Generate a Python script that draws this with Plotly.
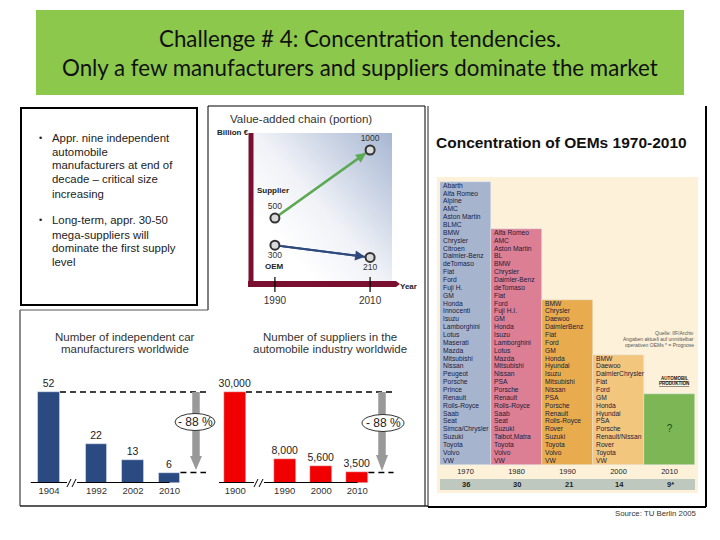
import base64
import plotly.graph_objects as go

W, H = 720, 540
# ---- data ----
title_lines = ["Challenge # 4: Concentration tendencies.",
               "Only a few manufacturers and suppliers dominate the market"]
bullet_lines = ["Appr. nine independent", "automobile", "manufacturers at end of",
                "decade \u2013 critical size", "increasing"]
bullet_lines2 = ["Long-term, appr. 30-50", "mega-suppliers will",
                 "dominate the first supply", "level"]

maker_years = ["1904", "1992", "2002", "2010"]
maker_counts = [52, 22, 13, 6]
supplier_years = ["1900", "1990", "2000", "2010"]
supplier_counts = [30000, 8000, 5600, 3500]
supplier_labels = ["30,000", "8,000", "5,600", "3,500"]

chain_years = [1990, 2010]
supplier_value = [500, 1000]
oem_value = [300, 210]
supplier_point_labels = ["500", "1000"]
oem_point_labels = ["300", "210"]

oem_periods = ["1970", "1980", "1990", "2000", "2010"]
oem_counts = [36, 30, 21, 14, 9]
oem_count_labels = ["36", "30", "21", "14", "9*"]
oem_1970 = ["Abarth", "Alfa Romeo", "Alpine", "AMC", "Aston Martin", "BLMC", "BMW", "Chrysler",
            "Citroen", "Daimler-Benz", "deTomaso", "Fiat", "Ford", "Fuji H.", "GM", "Honda",
            "Innocenti", "Isuzu", "Lamborghini", "Lotus", "Maserati", "Mazda", "Mitsubishi",
            "Nissan", "Peugeot", "Porsche", "Prince", "Renault", "Rolls-Royce", "Saab", "Seat",
            "Simca/Chrysler", "Suzuki", "Toyota", "Volvo", "VW"]
oem_1980 = ["Alfa Romeo", "AMC", "Aston Martin", "BL", "BMW", "Chrysler", "Daimler-Benz",
            "deTomaso", "Fiat", "Ford", "Fuji H.I.", "GM", "Honda", "Isuzu", "Lamborghini",
            "Lotus", "Mazda", "Mitsubishi", "Nissan", "PSA", "Porsche", "Renault", "Rolls-Royce",
            "Saab", "Seat", "Suzuki", "Talbot,Matra", "Toyota", "Volvo", "VW"]
oem_1990 = ["BMW", "Chrysler", "Daewoo", "DaimlerBenz", "Fiat", "Ford", "GM", "Honda", "Hyundai",
            "Isuzu", "Mitsubishi", "Nissan", "PSA", "Porsche", "Renault", "Rolls-Royce", "Rover",
            "Suzuki", "Toyota", "Volvo", "VW"]
oem_2000 = ["BMW", "Daewoo", "DaimlerChrysler", "Fiat", "Ford", "GM", "Honda", "Hyundai", "PSA",
            "Porsche", "Renault/Nissan", "Rover", "Toyota", "VW"]
oem_2010 = ["?"]
oem_lists = [oem_1970, oem_1980, oem_1990, oem_2000, oem_2010]
oem_colors = ["#A7B4CE", "#DC7F94", "#E8AC4E", "#F3C67E", "#7DB755"]

# ---- layout helpers ----
FONT = "Liberation Sans"
def px(x): return x / W
def py(y): return 1 - y / H
def dom(a, b, size): return [a / size, b / size]
def ydom(top, bottom): return [1 - bottom / H, 1 - top / H]

shapes, anns = [], []
def rect(x0, y0, x1, y1, fill=None, line=None, lw=0, layer="below"):
    shapes.append(dict(type="rect", xref="paper", yref="paper", x0=px(x0), x1=px(x1), y0=py(y0), y1=py(y1),
                       fillcolor=fill or "rgba(0,0,0,0)", layer=layer,
                       line=dict(color=line or "rgba(0,0,0,0)", width=lw)))
def seg(x0, y0, x1, y1, color="#000", lw=1, layer="below"):
    shapes.append(dict(type="line", xref="paper", yref="paper", x0=px(x0), x1=px(x1), y0=py(y0), y1=py(y1),
                       layer=layer, line=dict(color=color, width=lw)))
def tri(pts, color):
    d = "M " + " L ".join(f"{px(a):.5f},{py(b):.5f}" for a, b in pts) + " Z"
    shapes.append(dict(type="path", xref="paper", yref="paper", path=d, fillcolor=color, layer="above",
                       line=dict(width=0)))
def ann(text, x, y, size=10, color="#222", anchor="center", bold=False, font=FONT):
    anns.append(dict(text=f"<b>{text}</b>" if bold else text, x=px(x), y=py(y), xref="paper", yref="paper",
                     showarrow=False, xanchor=anchor, yanchor="middle", borderpad=0,
                     font=dict(family=font, size=size, color=color)))

fig = go.Figure()

# frames
rect(36, 10, 684, 95, fill="#8CC84B")
for line, yy in zip(title_lines, [38.5, 67]):
    ann(line, 360, yy, size=22.3, color="#111", font="Lato")
rect(21, 108, 197, 305, line="#000", lw=2)
seg(208, 106, 425, 106, lw=1); seg(208, 106, 208, 310, lw=1); seg(425, 106, 425, 506, lw=1)
seg(20, 310, 208, 310, color="#555", lw=1); seg(20, 310, 20, 506, color="#666", lw=1.5)
seg(20, 506, 428, 506, color="#222", lw=1.5)
seg(428, 106, 428, 507, color="#222", lw=1); seg(706, 106, 706, 507, color="#000", lw=2)
seg(428, 507, 706, 507, color="#000", lw=2)

# bullets
ann("\u2022", 40, 138, size=9)
for s, yy in zip(bullet_lines, [138, 152, 165, 179, 193.5]):
    ann(s, 51, yy, size=11.4, anchor="left")
ann("\u2022", 40, 220, size=9)
for s, yy in zip(bullet_lines2, [220, 234.5, 248, 262]):
    ann(s, 51, yy, size=11.4, anchor="left")

# ---- panel: manufacturers ----
maker_pos = [0, 1.3, 2.3, 3.3]
fig.add_trace(go.Bar(x=maker_pos, y=maker_counts, width=0.59, marker_color="#2B4A82", text=[str(v) for v in maker_counts],
                     textposition="outside", cliponaxis=False, constraintext="none",
                     textfont=dict(family=FONT, size=10.5, color="#222"), xaxis="x", yaxis="y"))
fig.add_trace(go.Scatter(x=[-0.5, 3.3], y=[0, 0], mode="lines", line=dict(color="#000", width=2), xaxis="x", yaxis="y", cliponaxis=False))
fig.add_trace(go.Scatter(x=[0.3, 4.3], y=[maker_counts[0]] * 2, mode="lines", line=dict(color="#000", width=1.5, dash="6px,4px"), xaxis="x", yaxis="y"))
fig.add_trace(go.Scatter(x=[3.6, 4.3], y=[maker_counts[-1]] * 2, mode="lines", line=dict(color="#000", width=1.5, dash="6px,4px"), xaxis="x", yaxis="y"))

# ---- panel: suppliers ----
supplier_pos = [0, 1.375, 2.39, 3.39]
fig.add_trace(go.Bar(x=supplier_pos, y=supplier_counts, width=0.61, marker_color="#F00000", text=supplier_labels,
                     textposition="outside", cliponaxis=False, constraintext="none",
                     textfont=dict(family=FONT, size=10.5, color="#222"), xaxis="x2", yaxis="y2"))
fig.add_trace(go.Scatter(x=[-0.45, 3.4], y=[0, 0], mode="lines", line=dict(color="#000", width=2), xaxis="x2", yaxis="y2", cliponaxis=False))
fig.add_trace(go.Scatter(x=[0.3, 4.4], y=[supplier_counts[0]] * 2, mode="lines", line=dict(color="#000", width=1.5, dash="6px,4px"), xaxis="x2", yaxis="y2"))
fig.add_trace(go.Scatter(x=[3.7, 4.4], y=[supplier_counts[-1]] * 2, mode="lines", line=dict(color="#000", width=1.5, dash="6px,4px"), xaxis="x2", yaxis="y2"))

for s, yy in zip(["Number of independent car", "manufacturers worldwide"], [337, 349]):
    ann(s, 125, yy, size=11.5, color="#333")
for s, yy in zip(["Number of suppliers in the", "automobile industry worldwide"], [337, 349]):
    ann(s, 330, yy, size=11.5, color="#333")

# grey arrows and ellipses
for cx, head0, head1, ecx, ecy, erx in [(196, 456, 470, 195, 422, 20), (382, 455, 471, 383, 423, 21)]:
    seg(cx, 392, cx, head0, color="#999", lw=7.5, layer="above")
    tri([(cx - 6, head0), (cx + 6, head0), (cx, head1)], "#999")
    shapes.append(dict(type="circle", xref="paper", yref="paper", x0=px(ecx - erx), x1=px(ecx + erx),
                       y0=py(ecy + 8.5), y1=py(ecy - 8.5), fillcolor="#fff", layer="above",
                       line=dict(color="#333", width=1)))
    ann("- 88 %", ecx, ecy, size=12, color="#222")
# axis breaks
for bx in [72, 259]:
    rect(bx - 5, 479, bx + 5, 487, fill="#fff", layer="above")
    seg(bx - 5, 487, bx - 1, 479, lw=1, layer="above")
    seg(bx + 0, 487, bx + 4, 479, lw=1, layer="above")

# ---- panel: value-added chain ----
svg = ('<svg xmlns="http://www.w3.org/2000/svg" width="140" height="150" preserveAspectRatio="none">'
       '<defs><linearGradient id="g" x1="0.2" y1="0.75" x2="1" y2="0">'
       '<stop offset="0" stop-color="#ffffff"/><stop offset="0.35" stop-color="#F0F2F7"/>'
       '<stop offset="1" stop-color="#A6B6D2"/></linearGradient></defs>'
       '<rect width="140" height="150" fill="url(#g)"/></svg>')
chain_images = [dict(source="data:image/svg+xml;base64," + base64.b64encode(svg.encode()).decode(),
                     xref="paper", yref="paper", x=px(253), y=py(133), sizex=139 / W, sizey=149 / H,
                     sizing="stretch", layer="below", xanchor="left", yanchor="top")]
fig.add_trace(go.Scatter(x=chain_years, y=supplier_value, mode="lines+markers+text", text=supplier_point_labels,
                         textposition="top center", textfont=dict(family=FONT, size=8.5, color="#333"),
                         line=dict(color="#5DAA55", width=2.5),
                         marker=dict(size=9, color="#DADADA", line=dict(color="#333", width=2)),
                         xaxis="x3", yaxis="y3", cliponaxis=False))
fig.add_trace(go.Scatter(x=chain_years, y=oem_value, mode="lines+markers+text", text=oem_point_labels,
                         textposition="bottom center", textfont=dict(family=FONT, size=8.5, color="#333"),
                         line=dict(color="#2E4A7D", width=2),
                         marker=dict(size=9, color="#DADADA", line=dict(color="#333", width=2)),
                         xaxis="x3", yaxis="y3", cliponaxis=False))
for vals, col in [(supplier_value, "#5DAA55"), (oem_value, "#2E4A7D")]:
    anns.append(dict(x=chain_years[1], y=vals[1], ax=chain_years[0], ay=vals[0], xref="x3", yref="y3",
                     axref="x3", ayref="y3", text="", showarrow=True, arrowhead=2, arrowsize=1,
                     arrowwidth=2, arrowcolor=col, standoff=5, startstandoff=6))
seg(251, 133, 251, 287, color="#7A1030", lw=5, layer="below")
seg(248, 284, 396, 284, color="#7A1030", lw=6, layer="below")
tri([(396, 281), (396, 287), (400, 284)], "#7A1030")
for yr in chain_years:
    shapes.append(dict(type="line", xref="x3", yref="paper", x0=yr, x1=yr, y0=py(277), y1=py(292), layer="above",
                       line=dict(color="#000", width=1.2)))
ann("Value-added chain (portion)", 301, 118, size=11.6, color="#333")
ann("Billion \u20ac", 216, 132, size=8, color="#222", anchor="left", bold=True)
ann("Supplier", 273, 190, size=8, color="#222", bold=True)
ann("OEM", 274, 266, size=8, color="#222", bold=True)
ann("Year", 408, 286, size=8, color="#222", bold=True)

# ---- panel: concentration ----
ann("Concentration of OEMs 1970-2010", 561, 142, size=15.5, color="#111", bold=True)
rect(437, 177, 698, 493, fill="#FDF1D9")
rect(440, 479, 695, 490, fill="#BFC8BF")
ann("Source: TU Berlin 2005", 698, 513, size=7.8, color="#333", anchor="right")
oem_pos = list(range(len(oem_periods)))
fig.add_trace(go.Bar(x=oem_pos, y=oem_counts, width=1, marker_color=oem_colors, xaxis="x4", yaxis="y4"))
for i, names in enumerate(oem_lists[:4]):
    n = len(names)
    fig.add_trace(go.Scatter(x=[i - 0.44] * n, y=[n - j - 0.5 for j in range(n)], text=names, mode="text",
                             textposition="middle right", cliponaxis=False,
                             textfont=dict(family=FONT, size=6.7, color="#20203A"), xaxis="x4", yaxis="y4"))
fig.add_trace(go.Scatter(x=[4], y=[oem_counts[4] / 2], text=oem_2010, mode="text", textposition="middle center",
                         textfont=dict(family=FONT, size=10, color="#1E4A1E"), xaxis="x4", yaxis="y4"))
for i, lab in enumerate(oem_count_labels):
    ann(lab, 466 + 51 * i + (i > 1) * 0.5, 484.5, size=7.5, color="#222", bold=True)
for s, yy in zip(["Quelle: IfF/Archiv", "Angaben aktuell auf unmittelbar", "operativen OEMs * = Prognose"], [333, 339, 345]):
    ann(s, 695, yy, size=5, color="#555", anchor="right")
ann("<u>AUTOMOBIL</u>", 674, 378, size=4.5, color="#111", bold=True)
ann("<u>PRODUKTION</u>", 674, 383, size=4.5, color="#111", bold=True)

hidden = dict(visible=False, fixedrange=True)
tick = dict(showgrid=False, zeroline=False, showline=False, ticks="", tickfont=dict(family=FONT, size=9.5, color="#333"), tickmode="array")
fig.update_layout(
    width=W, height=H, autosize=False, margin=dict(l=0, r=0, t=0, b=0, pad=0), showlegend=False,
    paper_bgcolor="#fff", plot_bgcolor="rgba(0,0,0,0)", bargap=0,
    shapes=shapes, annotations=anns, images=chain_images,
    xaxis=dict(domain=dom(19.8, 206, W), range=[-0.8, 4.3], tickvals=maker_pos, ticktext=maker_years, anchor="y", **tick),
    yaxis=dict(domain=ydom(375, 483), range=[0, 61.7], anchor="x", **hidden),
    xaxis2=dict(domain=dom(210, 395, W), range=[-0.7, 4.44], tickvals=supplier_pos, ticktext=supplier_years, anchor="y2", **tick),
    yaxis2=dict(domain=ydom(375, 483), range=[0, 35600], anchor="x2", **hidden),
    xaxis3=dict(domain=dom(253, 392, W), range=[1985.4, 2014.6], tickvals=chain_years, ticktext=[str(v) for v in chain_years],
                ticklen=7, tickcolor="rgba(0,0,0,0)", anchor="y3",
                **{k: v for k, v in tick.items() if k not in ("ticks", "tickfont")}, ticks="outside",
                tickfont=dict(family=FONT, size=10, color="#333")),
    yaxis3=dict(domain=ydom(133, 284), range=[15, 1125], anchor="x3", **hidden),
    xaxis4=dict(domain=dom(440, 695, W), range=[-0.5, 4.5], tickvals=oem_pos, ticktext=oem_periods, anchor="y4",
                **{k: v for k, v in tick.items() if k != "tickfont"}, tickfont=dict(family=FONT, size=7.5, color="#222")),
    yaxis4=dict(domain=ydom(176, 465), range=[0, 36.77], anchor="x4", **hidden),
)
fig.write_html("out.html", config=dict(displayModeBar=False), post_script="document.body.style.margin='0';")
